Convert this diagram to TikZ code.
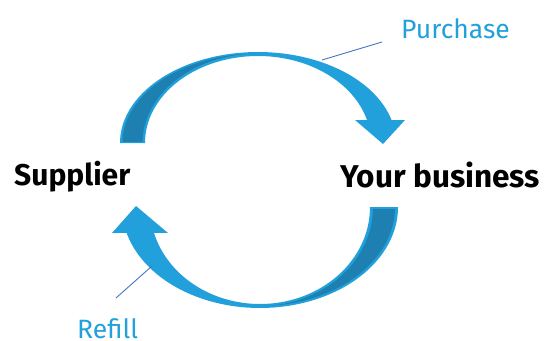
\documentclass[tikz,border=0pt]{standalone}
\usepackage{fontspec}
\setmainfont{Fira Sans}
\definecolor{lightb}{RGB}{34,160,219}
\definecolor{darkb}{RGB}{29,128,176}
\definecolor{linec}{RGB}{68,114,196}
\begin{document}
\begin{tikzpicture}[x=1pt,y=-1pt,
  band/.style={fill=lightb, draw=none},
  backface/.style={fill=darkb, draw=none},
  lbl/.style={text=lightb, font=\fontsize{26.5}{30}\selectfont, inner sep=0, anchor=base west},
  party/.style={font=\bfseries\fontsize{30}{34}\selectfont, inner sep=0, anchor=base west},
  leader/.style={draw=linec, line width=0.9pt}]
\useasboundingbox (0,0) rectangle (548,340);
% top arrow
\path[band] plot[domain=180:345.4, samples=90, variable=\t] ({258+138*cos(\t)},{143+91*sin(\t)})
  -- (405,120) -- (383,144) -- (355,120)
  -- plot[domain=344.7:180, samples=90, variable=\t] ({258+113*cos(\t)},{143+87*sin(\t)}) -- cycle;
\begin{scope}
\clip (0,0) rectangle (548,141);
\path[backface] plot[domain=180:270, samples=60, variable=\t] ({258+135.5*cos(\t)},{143+89.5*sin(\t)})
  -- plot[domain=270:180, samples=60, variable=\t] ({258+115.5*cos(\t)},{143+89.5*sin(\t)}) -- cycle;
\end{scope}
% bottom arrow
\path[band] plot[domain=0:165.1, samples=90, variable=\t] ({260+138*cos(\t)},{207+101*sin(\t)})
  -- (112,233) -- (136,206) -- (168,233)
  -- plot[domain=164.5:0, samples=90, variable=\t] ({260+110*cos(\t)},{207+97*sin(\t)}) -- cycle;
\begin{scope}
\clip (0,209) rectangle (548,340);
\path[backface] plot[domain=0:90, samples=60, variable=\t] ({260+135*cos(\t)},{207+99*sin(\t)})
  -- plot[domain=90:0, samples=60, variable=\t] ({260+113*cos(\t)},{207+99*sin(\t)}) -- cycle;
\end{scope}
% texts
\node[party] (sup) at (14,185) {Supplier};
\node[party, font=\bfseries\fontsize{31.5}{36}\selectfont] (biz) at (340,187) {Your business};
\node[lbl] (pur) at (401,38) {Purchase};
\node[lbl] (ref) at (77,338) {Refill};
% leaders
\coordinate (pa) at (322,60);
\coordinate (pb) at (382,42);
\coordinate (ra) at (152,266);
\coordinate (rb) at (116,298);
\draw[leader] (pa) -- (pb);
\draw[leader] (ra) -- (rb);
\end{tikzpicture}
\end{document}
